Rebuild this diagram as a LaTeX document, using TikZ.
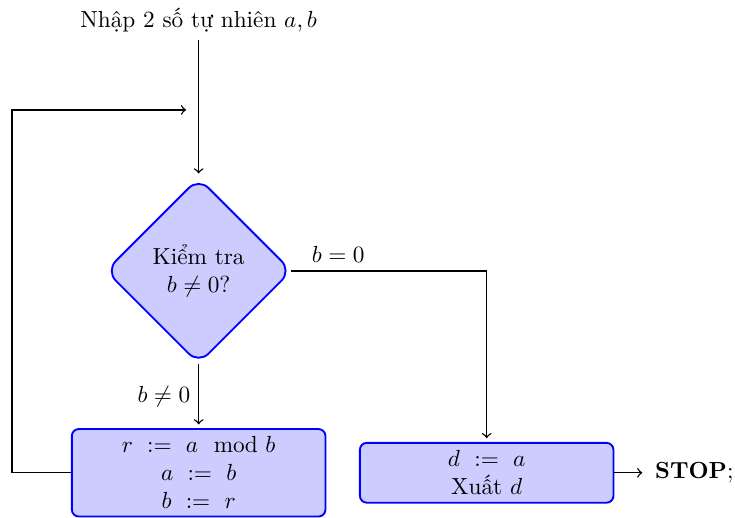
\documentclass[tikz,border=0pt]{standalone}
\usepackage{amsmath}
\usepackage{fontspec}
\usetikzlibrary{shapes.geometric}

\begin{document}
\begin{tikzpicture}[
    every node/.style={font=\normalsize, align=center},
    block/.style={rectangle, draw=blue, thick, fill=blue!20, rounded corners=3pt,
                  minimum width=3.83cm, outer sep=0pt},
    decision/.style={diamond, draw=blue, thick, fill=blue!20, rounded corners=6pt,
                     minimum width=2.8cm, minimum height=2.8cm, inner sep=0pt, outer sep=0pt},
    arr/.style={->, semithick, black, shorten >=2pt},
]
    \useasboundingbox (0,0) rectangle (11.10,-7.82);
    \node (input) at (3.00,-0.30) {Nhập 2 số tự nhiên $a,b$};
    \node[decision] (test) at (3.00,-4.09) {Kiểm tra\\ $b\neq 0$?};
    \draw[arr] (input.south) -- (test.north);
    \node[block] (update) at (3.00,-7.14) {$r\ :=\ a \mod b$\\ $a\ :=\ b$\\ $b\ :=\ r$};
    \draw[arr] (test.south) -- node[left] {$b\neq 0$} (update.north);
    \node[block] (output) at (7.35,-7.14) {$d\ :=\ a$\\ Xuất $d$};
    \draw[arr] (test.east) -| node[pos=0.12, above] {$b=0$} (output.north);
    \node[anchor=west] (stop) at (9.77,-7.14) {\textbf{STOP};};
    \draw[arr] (output.east) -- (stop.west);
    % vong lap quay lai
    \coordinate (back) at (2.88,-1.66);
    \draw[arr] (update.west) -- ++(-0.906,0) |- (back);
\end{tikzpicture}
\end{document}
